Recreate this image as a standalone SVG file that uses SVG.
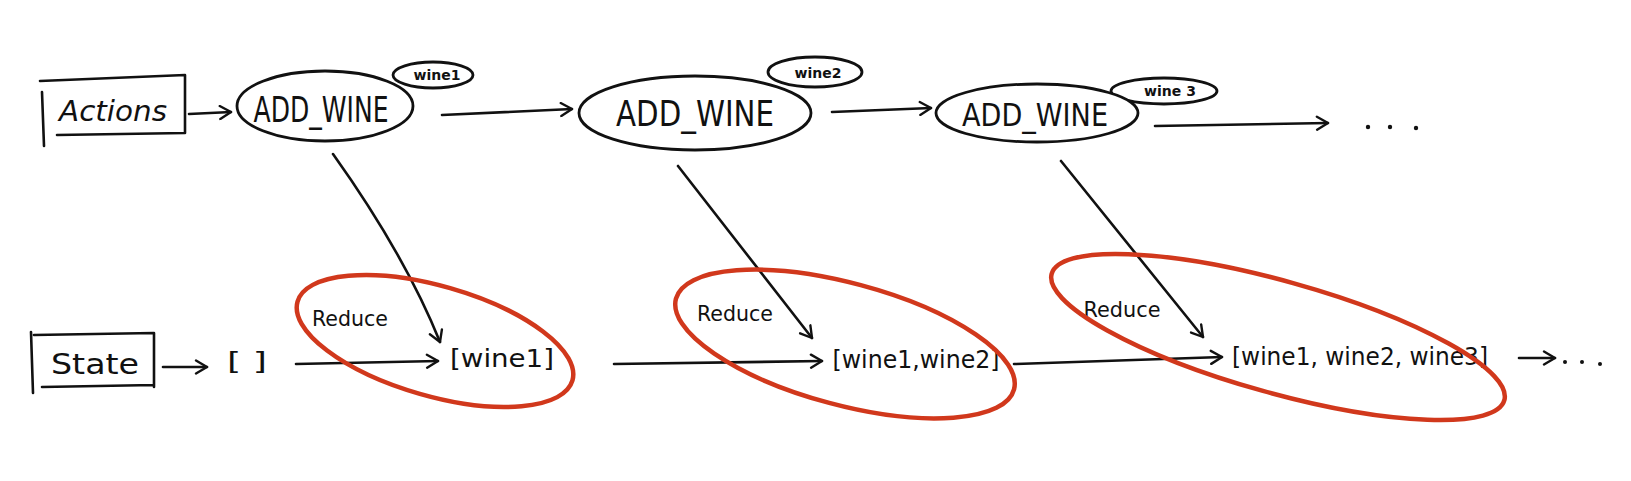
<svg xmlns="http://www.w3.org/2000/svg" width="1631" height="481" viewBox="0 0 1631 481">
<defs>
<style>
.ink{fill:none;stroke:#111;stroke-width:2.6;stroke-linecap:round;stroke-linejoin:round}
.blob{fill:#fff;stroke:#111;stroke-width:2.8}
.red{fill:none;stroke:#d1381c;stroke-width:4.5}
.t{font-family:"DejaVu Sans","Liberation Sans",sans-serif;fill:#111}
.big{font-size:36px}
.lbl{font-size:28px}
.sm{font-size:14px;font-weight:bold}
.st{font-size:24px}
.rd{font-size:21px}
.dot{fill:#111}
</style>
<marker id="ah" markerWidth="16" markerHeight="16" refX="13" refY="8" orient="auto" markerUnits="userSpaceOnUse">
<path d="M2,1.5 L13,8 L2,14.5" fill="none" stroke="#111" stroke-width="2.4" stroke-linecap="round" stroke-linejoin="round"/>
</marker>
</defs>
<rect width="1631" height="481" fill="#fff"/>

<g id="actions">
<path class="ink" d="M42,92 L44,146 M40,81 L185,75 L185,133 M57,135 L185,133"/>
<text class="t lbl" x="113" y="121" text-anchor="middle" textLength="108" lengthAdjust="spacingAndGlyphs" font-style="italic">Actions</text>
</g>

<g id="add1">
<ellipse class="blob" cx="433" cy="75" rx="40" ry="13"/>
<ellipse class="blob" cx="325" cy="106" rx="88" ry="35"/>
<text class="t big" x="321" y="122" text-anchor="middle" textLength="135" lengthAdjust="spacingAndGlyphs">ADD_WINE</text>
<text class="t sm" x="437" y="80" text-anchor="middle">wine1</text>
</g>

<g id="add2">
<ellipse class="blob" cx="815" cy="72" rx="47" ry="15"/>
<ellipse class="blob" cx="695" cy="113" rx="116" ry="37"/>
<text class="t big" x="695" y="126" text-anchor="middle" textLength="158" lengthAdjust="spacingAndGlyphs">ADD_WINE</text>
<text class="t sm" x="818" y="78" text-anchor="middle">wine2</text>
</g>

<g id="add3">
<ellipse class="blob" cx="1164" cy="91" rx="53" ry="13"/>
<ellipse class="blob" cx="1037" cy="113" rx="101" ry="29"/>
<text class="t" font-size="32" x="1035" y="126" text-anchor="middle" textLength="146" lengthAdjust="spacingAndGlyphs">ADD_WINE</text>
<text class="t sm" x="1170" y="96" text-anchor="middle">wine 3</text>
</g>

<g id="state">
<path class="ink" d="M31,332 L33,393 M34,335 L154,333 L154,387 M42,387 L154,385"/>
<text class="t lbl" x="95" y="374" text-anchor="middle" textLength="88" lengthAdjust="spacingAndGlyphs">State</text>
</g>

<g id="s0"><text class="t st" x="247" y="370" text-anchor="middle" textLength="40" lengthAdjust="spacingAndGlyphs">[ ]</text></g>
<g id="s1"><text class="t st" x="502" y="367" text-anchor="middle" textLength="104" lengthAdjust="spacingAndGlyphs">[wine1]</text></g>
<g id="s2"><text class="t st" x="916" y="368" text-anchor="middle" textLength="167" lengthAdjust="spacingAndGlyphs">[wine1,wine2]</text></g>
<g id="s3"><text class="t st" x="1360" y="365" text-anchor="middle" textLength="256" lengthAdjust="spacingAndGlyphs">[wine1, wine2, wine3]</text></g>

<g id="reduce-labels">
<text class="t rd" x="350" y="326" text-anchor="middle" textLength="76" lengthAdjust="spacingAndGlyphs">Reduce</text>
<text class="t rd" x="735" y="321" text-anchor="middle" textLength="76" lengthAdjust="spacingAndGlyphs">Reduce</text>
<text class="t rd" x="1122" y="317" text-anchor="middle" textLength="77" lengthAdjust="spacingAndGlyphs">Reduce</text>
</g>

<g id="connectors">
<path class="ink" d="M189,114 L231,112" marker-end="url(#ah)"/>
<path class="ink" d="M442,115 L572,109" marker-end="url(#ah)"/>
<path class="ink" d="M832,112 L931,108" marker-end="url(#ah)"/>
<path class="ink" d="M1155,126 L1328,123" marker-end="url(#ah)"/>
<circle class="dot" cx="1368" cy="127" r="2.2"/>
<circle class="dot" cx="1390" cy="127" r="2.2"/>
<circle class="dot" cx="1416" cy="128" r="2.2"/>
<path class="ink" d="M333,154 Q405,255 440,342" marker-end="url(#ah)"/>
<path class="ink" d="M678,166 L812,338" marker-end="url(#ah)"/>
<path class="ink" d="M1061,161 L1203,337" marker-end="url(#ah)"/>
<path class="ink" d="M163,367 L207,367" marker-end="url(#ah)"/>
<path class="ink" d="M296,364 L438,361" marker-end="url(#ah)"/>
<path class="ink" d="M614,364 L822,361" marker-end="url(#ah)"/>
<path class="ink" d="M1014,364 L1222,357" marker-end="url(#ah)"/>
<path class="ink" d="M1519,358 L1555,358" marker-end="url(#ah)"/>
<circle class="dot" cx="1565" cy="362" r="2"/>
<circle class="dot" cx="1582" cy="362" r="2"/>
<circle class="dot" cx="1600" cy="364" r="2"/>
</g>

<g id="highlights">
<ellipse class="red" cx="0" cy="0" rx="143" ry="55" transform="translate(435,341) rotate(16)"/>
<ellipse class="red" cx="0" cy="0" rx="175" ry="61" transform="translate(845,344) rotate(15)"/>
<ellipse class="red" cx="0" cy="0" rx="235" ry="56" transform="translate(1278,337) rotate(15.6)"/>
</g>
</svg>
